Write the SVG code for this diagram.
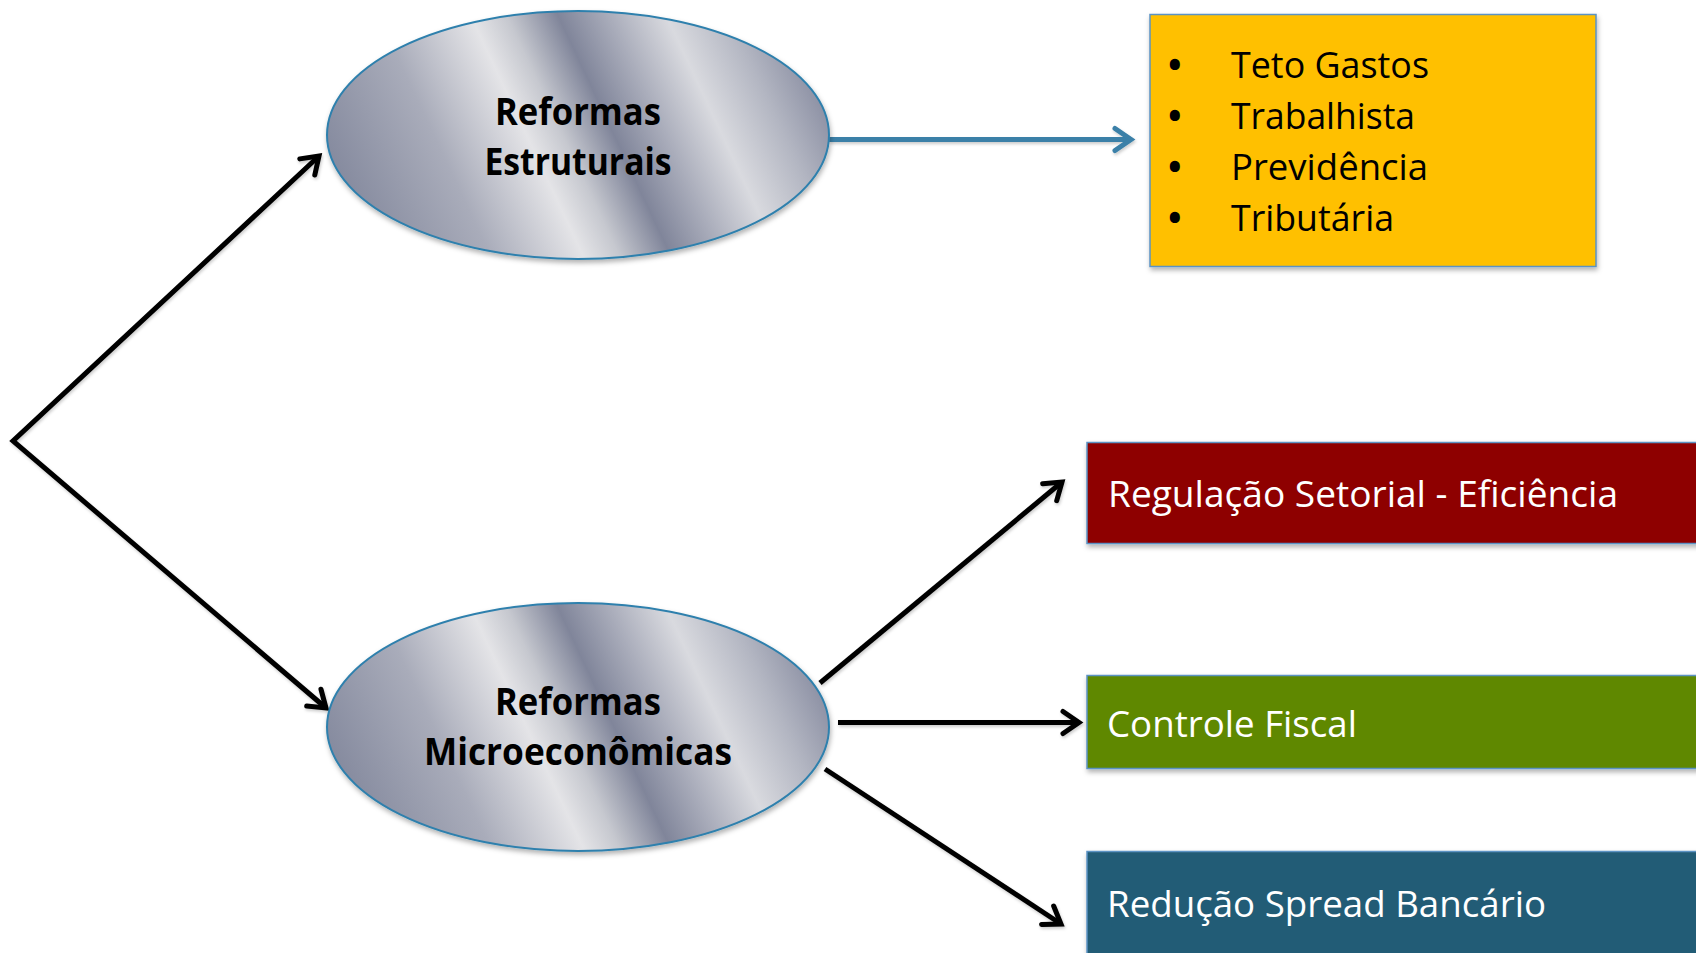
<svg xmlns="http://www.w3.org/2000/svg" width="1696" height="953" viewBox="0 0 1696 953">
<style>
.ell{stroke:#2f80ad;stroke-width:2;fill:url(#chrome);filter:url(#sh)}
.etxt{font-family:"Open Sans","Liberation Sans",sans-serif;font-weight:bold;font-size:37px;fill:#000;text-anchor:middle}
.box{stroke:#5b93c4;stroke-width:1.5;filter:url(#sh)}
.wtxt{font-family:"Open Sans","Liberation Sans",sans-serif;font-size:36px;fill:#fff}
.btxt{font-family:"Open Sans","Liberation Sans",sans-serif;font-size:36px;fill:#000}
.bul{font-weight:bold}
.conn{fill:none;stroke:#000;stroke-width:5;filter:url(#lsh)}
.conn.blue{stroke:#3a80a8}
</style>
<defs>
<linearGradient id="chrome" gradientUnits="userSpaceOnUse" x1="-211" y1="99" x2="211" y2="-99">
<stop offset="0" stop-color="#868b9f"/>
<stop offset="0.22" stop-color="#a9acba"/>
<stop offset="0.4" stop-color="#e4e4e7"/>
<stop offset="0.47" stop-color="#c6c8cf"/>
<stop offset="0.57" stop-color="#80859a"/>
<stop offset="0.67" stop-color="#aaadbb"/>
<stop offset="0.78" stop-color="#d9dadf"/>
<stop offset="0.9" stop-color="#b3b6c2"/>
<stop offset="1" stop-color="#8f93a6"/>
</linearGradient>
<filter id="sh" x="-10%" y="-10%" width="120%" height="130%">
<feDropShadow dx="1" dy="3" stdDeviation="2.5" flood-color="#000" flood-opacity="0.3"/>
</filter>
<filter id="lsh" filterUnits="userSpaceOnUse" x="0" y="0" width="1696" height="953">
<feDropShadow dx="1" dy="2" stdDeviation="1.5" flood-color="#000" flood-opacity="0.2"/>
</filter>
<marker id="ah" markerUnits="userSpaceOnUse" viewBox="-24 -14 30 28" markerWidth="30" markerHeight="28" refX="0" refY="0" orient="auto-start-reverse" overflow="visible">
<path d="M-16,-11 L0,0 L-16,11" fill="none" stroke="#000" stroke-width="5" stroke-linejoin="miter" stroke-linecap="round"/>
</marker>
<marker id="ahb" markerUnits="userSpaceOnUse" viewBox="-24 -14 30 28" markerWidth="30" markerHeight="28" refX="0" refY="0" orient="auto" overflow="visible">
<path d="M-16,-11 L0,0 L-16,11" fill="none" stroke="#3a80a8" stroke-width="5" stroke-linejoin="miter" stroke-linecap="round"/>
</marker>
</defs>
<rect width="1696" height="953" fill="#fff"/>

<g id="connectors">
<path class="conn" d="M319,156 L13,441 L326,708" marker-start="url(#ah)" marker-end="url(#ah)"/>
<path class="conn blue" d="M829,139.5 L1131,139.5" marker-end="url(#ahb)"/>
<path class="conn" d="M820,683 L1062,482" marker-end="url(#ah)"/>
<path class="conn" d="M838,722.5 L1079,722.5" marker-end="url(#ah)"/>
<path class="conn" d="M825,769 L1061,924" marker-end="url(#ah)"/>
</g>

<g id="reformas-estruturais" transform="translate(578,135)">
<ellipse class="ell" cx="0" cy="0" rx="251" ry="124"/>
<text class="etxt" x="0" y="-10" textLength="166" lengthAdjust="spacingAndGlyphs">Reformas</text>
<text class="etxt" x="0" y="40" textLength="187" lengthAdjust="spacingAndGlyphs">Estruturais</text>
</g>

<g id="reformas-micro" transform="translate(578,727)">
<ellipse class="ell" cx="0" cy="0" rx="251" ry="124"/>
<text class="etxt" x="0" y="-12" textLength="166" lengthAdjust="spacingAndGlyphs">Reformas</text>
<text class="etxt" x="0" y="38" textLength="308" lengthAdjust="spacingAndGlyphs">Microeconômicas</text>
</g>

<g id="lista-reformas">
<rect class="box" x="1150" y="14.5" width="446" height="252" fill="#ffc000"/>
<text class="btxt" y="78"><tspan class="bul" x="1168">•</tspan><tspan x="1231" textLength="198" lengthAdjust="spacingAndGlyphs">Teto Gastos</tspan></text>
<text class="btxt" y="129"><tspan class="bul" x="1168">•</tspan><tspan x="1231" textLength="184" lengthAdjust="spacingAndGlyphs">Trabalhista</tspan></text>
<text class="btxt" y="180"><tspan class="bul" x="1168">•</tspan><tspan x="1231" textLength="197" lengthAdjust="spacingAndGlyphs">Previdência</tspan></text>
<text class="btxt" y="231"><tspan class="bul" x="1168">•</tspan><tspan x="1231" textLength="163" lengthAdjust="spacingAndGlyphs">Tributária</tspan></text>
</g>

<g id="regulacao">
<rect class="box" x="1087" y="442.5" width="620" height="101" fill="#8e0000"/>
<text class="wtxt" x="1108" y="507" textLength="510" lengthAdjust="spacingAndGlyphs">Regulação Setorial - Eficiência</text>
</g>

<g id="controle-fiscal">
<rect class="box" x="1087" y="675.5" width="620" height="93" fill="#5e8806"/>
<text class="wtxt" x="1107" y="737" textLength="250" lengthAdjust="spacingAndGlyphs">Controle Fiscal</text>
</g>

<g id="spread-bancario">
<rect class="box" x="1087" y="851.5" width="620" height="110" fill="#235c76"/>
<text class="wtxt" x="1107" y="917" textLength="439" lengthAdjust="spacingAndGlyphs">Redução Spread Bancário</text>
</g>
</svg>
